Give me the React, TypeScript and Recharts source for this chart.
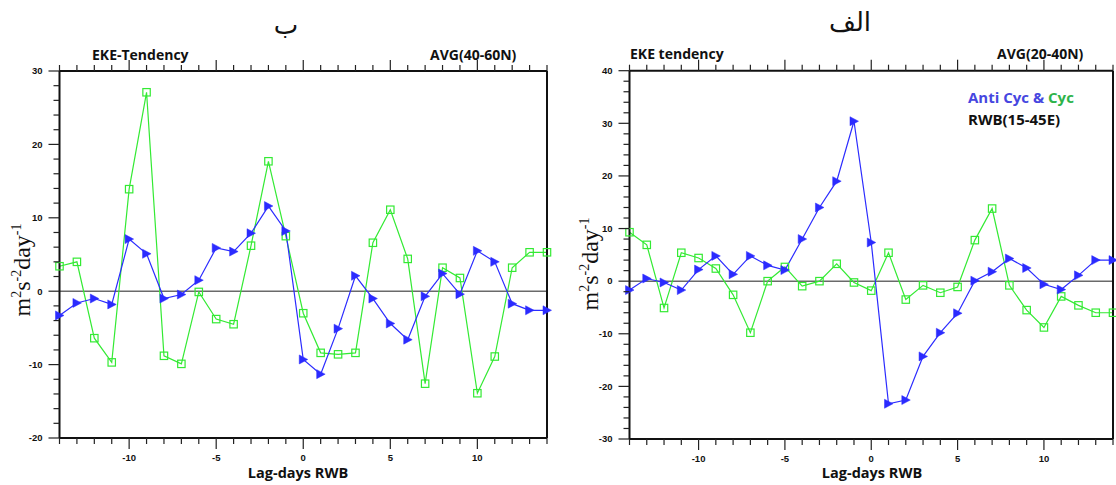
import React from "react";
import {
  LineChart,
  Line,
  XAxis,
  YAxis,
  ReferenceLine,
} from "recharts";

// Lag days of RWB (x categories)
const lagDays = [
  -14, -13, -12, -11, -10, -9, -8, -7, -6, -5, -4, -3, -2, -1, 0,
  1, 2, 3, 4, 5, 6, 7, 8, 9, 10, 11, 12, 13, 14,
];

// Panel "ب" : AVG(40-60N)
const antiCycB = [
  -3.3, -1.6, -1.0, -1.8, 7.1, 5.1, -1.0, -0.45, 1.5, 5.9, 5.4, 7.9, 11.6, 8.2,
  -9.3, -11.3, -5.1, 2.1, -1.0, -4.4, -6.6, -0.7, 2.4, -0.4, 5.5, 4.0, -1.7, -2.6, -2.6,
];
const cycB = [
  3.4, 4.0, -6.4, -9.7, 13.9, 27.1, -8.8, -9.9, -0.1, -3.8, -4.5, 6.2, 17.7, 7.5,
  -3.0, -8.4, -8.6, -8.4, 6.6, 11.1, 4.4, -12.6, 3.2, 1.8, -13.9, -8.9, 3.2, 5.3, 5.3,
];

// Panel "الف" : AVG(20-40N)
const antiCycA = [
  -1.7, 0.5, -0.25, -1.7, 2.2, 4.8, 1.3, 4.8, 3.0, 2.1, 8.0, 14.0, 19.0, 30.4,
  7.35, -23.3, -22.6, -14.3, -9.8, -6.1, 0.1, 1.8, 4.3, 2.5, -0.6, -1.6, 1.1, 4.0, 4.0,
];
const cycA = [
  9.3, 6.9, -5.1, 5.4, 4.4, 2.4, -2.6, -9.8, 0, 2.7, -0.95, 0, 3.3, -0.25,
  -1.8, 5.4, -3.5, -0.8, -2.2, -1.1, 7.8, 13.8, -0.8, -5.5, -8.8, -2.9, -4.6, -6.0, -6.0,
];

const yTicksB = [
  -20, -18, -16, -14, -12, -10, -8, -6, -4, -2, 0, 2, 4, 6, 8, 10, 12, 14, 16, 18, 20,
  22, 24, 26, 28, 30,
];
const yTicksA = [
  -30, -28, -26, -24, -22, -20, -18, -16, -14, -12, -10, -8, -6, -4, -2, 0, 2, 4, 6, 8,
  10, 12, 14, 16, 18, 20, 22, 24, 26, 28, 30, 32, 34, 36, 38, 40,
];

const BLUE = "#2b2bff";
const GREEN = "#33ea33";
const tickFont = "'Liberation Sans', Arial, sans-serif";
const titleFont = "'Open Sans', 'Liberation Sans', sans-serif";

const isMajor = (v: number) => v % 10 === 0;

const BottomTick = ({ x, y, payload }: any) => {
  const v = payload.value;
  const major = v % 5 === 0;
  return (
    <g>
      <line x1={x} x2={x} y1={y} y2={y + (major ? 11 : 6)} stroke="#222" strokeWidth={1.2} />
      {major && (
        <text x={x} y={y + 23} textAnchor="middle" fontSize={9.5} fontWeight="bold" fontFamily={tickFont} fill="#111">
          {v}
        </text>
      )}
    </g>
  );
};

const TopTick = ({ x, y, payload }: any) => {
  const major = payload.value % 5 === 0;
  return <line x1={x} x2={x} y1={y} y2={y - (major ? 11 : 6)} stroke="#222" strokeWidth={1.2} />;
};

const LeftTick = ({ x, y, payload }: any) => {
  const v = payload.value;
  const major = isMajor(v);
  return (
    <g>
      <line x1={x} x2={x - (major ? 11 : 6)} y1={y} y2={y} stroke="#222" strokeWidth={1.2} />
      {major && (
        <text x={x - 17} y={y} dy="0.35em" textAnchor="end" fontSize={9.5} fontWeight="bold" fontFamily={tickFont} fill="#111">
          {v}
        </text>
      )}
    </g>
  );
};

const RightTick = ({ x, y, payload }: any) => {
  const major = isMajor(payload.value);
  return <line x1={x} x2={x + (major ? 11 : 6)} y1={y} y2={y} stroke="#222" strokeWidth={1.2} />;
};

const TriangleDot = (props: any) => {
  const { cx, cy, index } = props;
  if (cx == null || cy == null) return <g key={`t${index}`} />;
  return (
    <path
      key={`t${index}`}
      d={`M${cx - 4},${cy - 4.5} L${cx + 4.5},${cy} L${cx - 4},${cy + 4.5} Z`}
      fill={BLUE}
      stroke={BLUE}
      strokeWidth={0.5}
    />
  );
};

const SquareDot = (props: any) => {
  const { cx, cy, index } = props;
  if (cx == null || cy == null) return <g key={`s${index}`} />;
  return (
    <rect key={`s${index}`} x={cx - 3.7} y={cy - 3.7} width={7.4} height={7.4} fill="none" stroke={GREEN} strokeWidth={1.2} />
  );
};

function YLabel({ left, top }: { left: number; top: number }) {
  return (
    <div
      style={{
        position: "absolute",
        left,
        top,
        transform: "translate(-50%, -50%) rotate(-90deg)",
        whiteSpace: "nowrap",
        fontFamily: "'Liberation Serif', 'Times New Roman', serif",
        fontSize: 24,
        color: "#111",
        lineHeight: 1,
      }}
    >
      m<sup style={{ fontSize: 14 }}>2</sup>s<sup style={{ fontSize: 14 }}>-2</sup>day<sup style={{ fontSize: 14 }}>-1</sup>
    </div>
  );
}

function Panel({
  anti,
  cyc,
  yDomain,
  yTicks,
  width,
  margin,
}: {
  anti: number[];
  cyc: number[];
  yDomain: [number, number];
  yTicks: number[];
  width: number;
  margin: { top: number; right: number; bottom: number; left: number };
}) {
  const data = lagDays.map((d, i) => ({ lag: d, anti: anti[i], cyc: cyc[i] }));
  const axisLine = { stroke: "#111", strokeWidth: 2 };
  return (
    <LineChart width={width} height={485} data={data} margin={margin}>
      <XAxis
        dataKey="lag"
        type="number"
        domain={[-14, 14]}
        ticks={lagDays}
        interval={0}
        tickSize={0}
        tickMargin={0}
        tickLine={false}
        axisLine={axisLine}
        tick={BottomTick}
        height={36}
      />
      <XAxis
        xAxisId="top"
        orientation="top"
        dataKey="lag"
        type="number"
        domain={[-14, 14]}
        ticks={lagDays}
        interval={0}
        tickSize={0}
        tickMargin={0}
        tickLine={false}
        axisLine={axisLine}
        tick={TopTick}
        height={12}
      />
      <YAxis
        type="number"
        domain={yDomain}
        ticks={yTicks}
        interval={0}
        tickSize={0}
        tickMargin={0}
        tickLine={false}
        axisLine={axisLine}
        tick={LeftTick}
        width={45}
      />
      <YAxis
        yAxisId="right"
        orientation="right"
        type="number"
        domain={yDomain}
        ticks={yTicks}
        interval={0}
        tickSize={0}
        tickMargin={0}
        tickLine={false}
        axisLine={axisLine}
        tick={RightTick}
        width={12}
      />
      <ReferenceLine y={0} stroke="#6a6a6a" strokeWidth={1.5} />
      <Line
        dataKey="cyc"
        stroke={GREEN}
        strokeWidth={1.2}
        dot={SquareDot}
        activeDot={false}
        isAnimationActive={false}
      />
      <Line
        dataKey="anti"
        stroke={BLUE}
        strokeWidth={1.2}
        dot={TriangleDot}
        activeDot={false}
        isAnimationActive={false}
      />
    </LineChart>
  );
}

const textBase: React.CSSProperties = {
  position: "absolute",
  whiteSpace: "nowrap",
  fontFamily: titleFont,
  fontWeight: 700,
  color: "#111",
  lineHeight: 1,
  transform: "translate(0, -50%)",
};

export default function App() {
  return (
    <div
      style={{
        position: "absolute",
        left: 0,
        top: 0,
        width: 1116,
        height: 485,
        background: "#fff",
        overflow: "hidden",
      }}
    >
      <div style={{ position: "absolute", left: 0, top: 0 }}>
        <Panel
          anti={antiCycB}
          cyc={cycB}
          yDomain={[-20, 30]}
          yTicks={yTicksB}
          width={565}
          margin={{ top: 59, right: 6, bottom: 11, left: 14.5 }}
        />
      </div>
      <div style={{ position: "absolute", left: 570, top: 0 }}>
        <Panel
          anti={antiCycA}
          cyc={cycA}
          yDomain={[-30, 40]}
          yTicks={yTicksA}
          width={546}
          margin={{ top: 58.7, right: -9, bottom: 10, left: 14.5 }}
        />
      </div>

      {/* panel letters */}
      <div style={{ ...textBase, left: 286, top: 25, fontWeight: 400, fontSize: 26, fontFamily: "'DejaVu Sans', sans-serif", transform: "translate(-50%, -50%)" }}>
        ب
      </div>
      <div style={{ ...textBase, left: 850, top: 22, fontWeight: 400, fontSize: 26, fontFamily: "'DejaVu Sans', sans-serif", transform: "translate(-50%, -50%)" }}>
        الف
      </div>

      {/* top titles */}
      <div style={{ ...textBase, left: 92, top: 55, fontSize: 14 }}>EKE-Tendency</div>
      <div style={{ ...textBase, left: 430, top: 55, fontSize: 14 }}>AVG(40-60N)</div>
      <div style={{ ...textBase, left: 630, top: 54, fontSize: 14 }}>EKE tendency</div>
      <div style={{ ...textBase, left: 997, top: 54, fontSize: 14 }}>AVG(20-40N)</div>

      {/* annotation */}
      <div style={{ ...textBase, left: 968, top: 97, fontSize: 15 }}>
        <span style={{ color: "#4646e0" }}>Anti Cyc &amp; </span>
        <span style={{ color: "#2eb34a" }}>Cyc</span>
      </div>
      <div style={{ ...textBase, left: 968, top: 119, fontSize: 15 }}>RWB(15-45E)</div>

      {/* x labels */}
      <div style={{ ...textBase, left: 298, top: 473, fontSize: 14.5, transform: "translate(-50%, -50%)" }}>Lag-days RWB</div>
      <div style={{ ...textBase, left: 872, top: 473, fontSize: 14.5, transform: "translate(-50%, -50%)" }}>Lag-days RWB</div>

      {/* y labels */}
      <YLabel left={22} top={270} />
      <YLabel left={590} top={264} />
    </div>
  );
}
